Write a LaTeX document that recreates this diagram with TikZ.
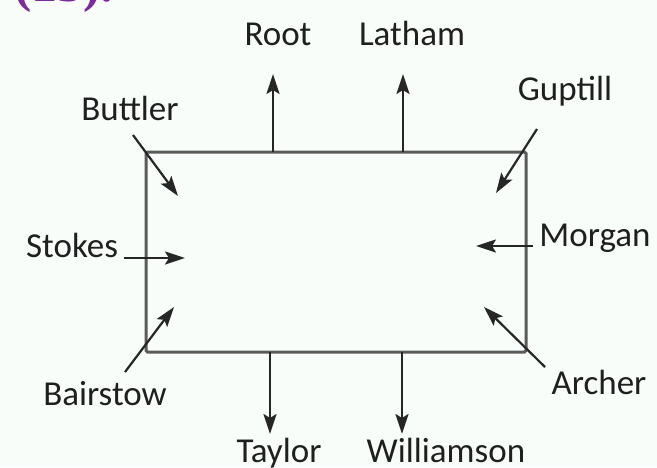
\documentclass[tikz,border=0pt]{standalone}
\usepackage{fontspec}
\setmainfont{Carlito}
\newfontfamily\headfont{Liberation Serif}
\usetikzlibrary{arrows.meta}
\definecolor{pagebg}{HTML}{F9FDFA}
\definecolor{boxline}{HTML}{5A5A5A}
\definecolor{arrowline}{HTML}{262626}
\definecolor{headpurple}{HTML}{7A2C9C}
\tikzset{
  player/.style={anchor=base, inner sep=0pt, text=black!88,
               font=\fontsize{35}{40}\selectfont},
  move/.style={draw=arrowline, line width=2.2pt,
               -{Stealth[length=20pt,width=13pt,inset=4pt]}},
  field/.style={draw=boxline, line width=3pt, rounded corners=1.5pt}
}
\begin{document}
\begin{tikzpicture}[x=1pt,y=-1pt]
  \fill[pagebg] (0,0) rectangle (657,467);
  \useasboundingbox (0,0) rectangle (657,467);

  % heading fragment cut by the top edge
  \begin{scope}
    \clip (0,0) rectangle (657,467);
    \node[anchor=base west, inner sep=0pt, text=headpurple,
          font=\headfont\bfseries\fontsize{52}{58}\selectfont] (head) at (14,1) {(15).};
  \end{scope}

  % the field
  \node[field, minimum width=380pt, minimum height=200pt, inner sep=0pt] (box) at (336,252) {};

  % player names
  \node[player] (root)   at (278,45)  {Root};
  \node[player] (latham) at (412,45)  {Latham};
  \node[player] (buttler) at (130,120) {Buttler};
  \node[player] (guptill) at (565,100) {Guptill};
  \node[player] (stokes) at (72,257)  {Stokes};
  \node[player] (morgan) at (595,246) {Morgan};
  \node[player] (bairstow) at (105,405) {Bairstow};
  \node[player] (archer) at (599,394) {Archer};
  \node[player] (taylor) at (279,462) {Taylor};
  \node[player] (williamson) at (446,462) {Williamson};

  % arrow ends
  \coordinate (rootA) at (273,152);   \coordinate (rootB) at (273,74);
  \coordinate (lathamA) at (403,152); \coordinate (lathamB) at (403,74);
  \coordinate (taylorA) at (270,352); \coordinate (taylorB) at (270,434);
  \coordinate (willA) at (402,352);   \coordinate (willB) at (402,434);
  \coordinate (buttlerA) at (133,135); \coordinate (buttlerB) at (178,196);
  \coordinate (guptillA) at (537,129); \coordinate (guptillB) at (496,193);
  \coordinate (bairstowA) at (125,372); \coordinate (bairstowB) at (174,307);
  \coordinate (archerA) at (545,367); \coordinate (archerB) at (484,307);
  \coordinate (stokesA) at (124,258); \coordinate (stokesB) at (185,258);
  \coordinate (morganA) at (533,246); \coordinate (morganB) at (476,246);

  \draw[move] (rootA) -- (rootB);
  \draw[move] (lathamA) -- (lathamB);
  \draw[move] (taylorA) -- (taylorB);
  \draw[move] (willA) -- (willB);
  \draw[move] (buttlerA) -- (buttlerB);
  \draw[move] (guptillA) -- (guptillB);
  \draw[move] (bairstowA) -- (bairstowB);
  \draw[move] (archerA) -- (archerB);
  \draw[move] (stokesA) -- (stokesB);
  \draw[move] (morganA) -- (morganB);
\end{tikzpicture}
\end{document}
